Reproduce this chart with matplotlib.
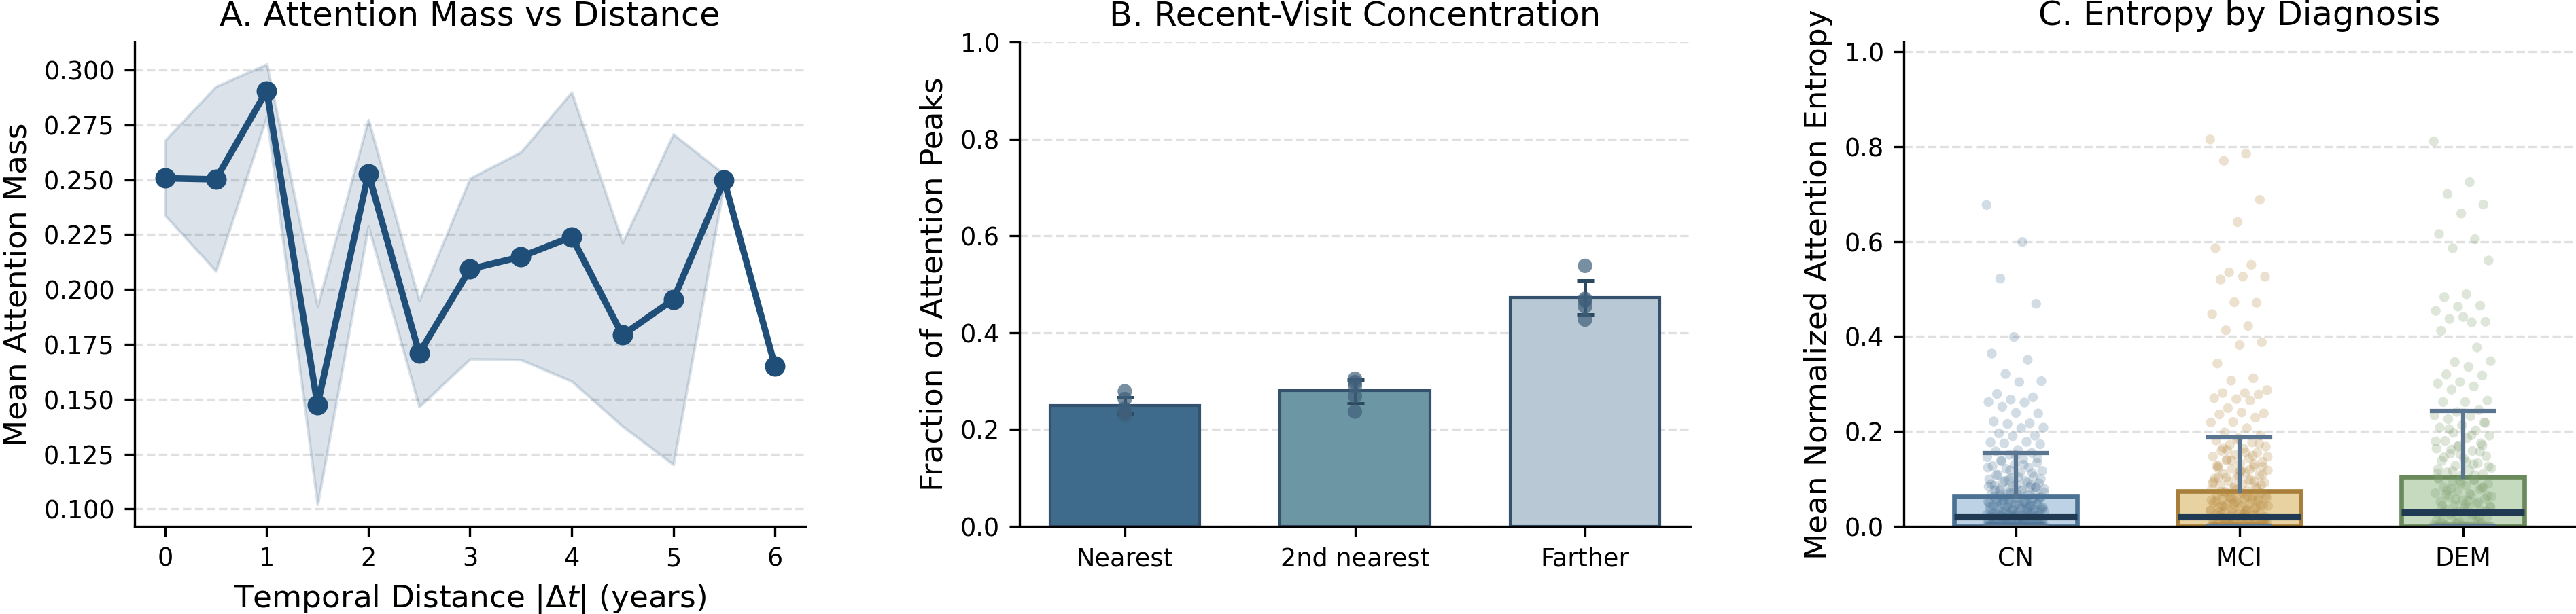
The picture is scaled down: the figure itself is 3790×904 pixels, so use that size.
import matplotlib
matplotlib.use("Agg")
import matplotlib.pyplot as plt
import numpy as np

# ---- Panel A: attention mass vs temporal distance ----
distance = [0, 0.5, 1, 1.5, 2, 2.5, 3, 3.5, 4, 4.5, 5, 5.5, 6]
mass_mean = [0.2507, 0.2502, 0.2906, 0.1475, 0.2528, 0.1710, 0.2093, 0.2149,
             0.2240, 0.1792, 0.1954, 0.2498, 0.1652]
mass_upper = [0.2680, 0.2925, 0.3027, 0.1925, 0.2774, 0.1950, 0.2507, 0.2626,
              0.2899, 0.2214, 0.2708, 0.2525, np.nan]
mass_lower = [0.2338, 0.2084, 0.2788, 0.1021, 0.2288, 0.1466, 0.1683, 0.1680,
              0.1582, 0.1377, 0.1203, 0.2480, np.nan]

# ---- Panel B: recent-visit concentration ----
peak_cats = ["Nearest", "2nd nearest", "Farther"]
peak_frac = [0.250, 0.280, 0.472]
peak_err_lo = [0.017, 0.0265, 0.035]
peak_err_hi = [0.016, 0.0235, 0.036]
peak_folds = [
    [0.279, 0.263, 0.243, 0.235, 0.230],
    [0.305, 0.298, 0.290, 0.269, 0.237],
    [0.538, 0.470, 0.466, 0.454, 0.427],
]

# ---- Panel C: entropy by diagnosis ----
diag = ["CN", "MCI", "DEM"]
ent_q1 = [0.0, 0.0, 0.0]
ent_median = [0.020, 0.020, 0.030]
ent_q3 = [0.063, 0.075, 0.105]
ent_whislo = [0.0, 0.0, 0.0]
ent_whishi = [0.155, 0.187, 0.243]

ent_cn = [0.677, 0.599, 0.522, 0.469, 0.399, 0.364, 0.351, 0.321, 0.306, 0.304,
          0.279, 0.272, 0.267, 0.262, 0.261, 0.252, 0.238, 0.239, 0.221, 0.217,
          0.216, 0.208, 0.207, 0.196, 0.191, 0.190, 0.177, 0.178, 0.175, 0.173,
          0.161, 0.158,
          0.155, 0.151, 0.146, 0.142, 0.139, 0.134, 0.131, 0.127, 0.124, 0.121,
          0.117, 0.113, 0.109, 0.105, 0.102, 0.099, 0.096, 0.093, 0.091, 0.088,
          0.086, 0.083, 0.081, 0.079, 0.077, 0.074, 0.072, 0.069, 0.067, 0.065,
          0.062, 0.061, 0.059, 0.057, 0.056, 0.054, 0.052, 0.051, 0.049, 0.047,
          0.046, 0.044, 0.043, 0.041, 0.040, 0.038, 0.037, 0.036, 0.034, 0.033,
          0.032, 0.031, 0.029, 0.028, 0.027, 0.026, 0.025, 0.024, 0.023, 0.022,
          0.021, 0.020, 0.019, 0.018, 0.017, 0.016, 0.015, 0.014, 0.013, 0.012,
          0.011, 0.010, 0.009, 0.008, 0.008, 0.007, 0.006, 0.005, 0.004, 0.003,
          0.003, 0.002, 0.001, 0.001, 0.000, 0.000, 0.000, 0.000, 0.000, 0.000,
          0.000, 0.000, 0.000, 0.000, 0.000, 0.000, 0.000, 0.000, 0.000, 0.000,
          0.000, 0.000, 0.000, 0.000, 0.000, 0.000, 0.000, 0.000, 0.000, 0.000,
          0.045, 0.052, 0.031, 0.012, 0.067, 0.083, 0.024, 0.006, 0.038, 0.015,
          0.000, 0.000, 0.000, 0.000, 0.000, 0.000, 0.000, 0.000, 0.000, 0.000,
          0.000, 0.000, 0.000, 0.000, 0.000, 0.000, 0.000, 0.000, 0.000, 0.000,
          0.003, 0.005, 0.007, 0.009, 0.011, 0.013, 0.016, 0.018, 0.021, 0.023,
          0.026, 0.028, 0.031, 0.034, 0.036, 0.039, 0.042, 0.044, 0.047, 0.049,
          0.052, 0.055, 0.057, 0.060, 0.063, 0.066, 0.069, 0.072, 0.075, 0.078,
          0.082, 0.085, 0.089, 0.092, 0.096, 0.100, 0.104, 0.108, 0.112, 0.118,
          0.124, 0.130, 0.137, 0.144, 0.150, 0.002, 0.006, 0.010, 0.014, 0.019,
          0.024, 0.029, 0.035, 0.041, 0.048, 0.054, 0.061, 0.068, 0.076, 0.087,
          0.098, 0.001, 0.004, 0.008, 0.012, 0.017, 0.022, 0.027, 0.033, 0.039,
          0.046, 0.053, 0.059, 0.071, 0.084]
ent_mci = [0.815, 0.785, 0.770, 0.688, 0.641, 0.586, 0.551, 0.535, 0.526, 0.526,
           0.520, 0.471, 0.472, 0.447, 0.422, 0.413, 0.388, 0.382, 0.343, 0.312,
           0.307, 0.287, 0.281, 0.281, 0.278, 0.268, 0.270, 0.265, 0.249, 0.238,
           0.240, 0.236, 0.229, 0.220, 0.219, 0.207, 0.198, 0.192,
           0.186, 0.181, 0.177, 0.172, 0.168, 0.164, 0.159, 0.155, 0.151, 0.147,
           0.143, 0.139, 0.136, 0.132, 0.128, 0.125, 0.121, 0.118, 0.114, 0.111,
           0.108, 0.104, 0.101, 0.098, 0.095, 0.092, 0.089, 0.086, 0.083, 0.081,
           0.078, 0.076, 0.073, 0.071, 0.069, 0.066, 0.064, 0.062, 0.060, 0.058,
           0.056, 0.054, 0.052, 0.050, 0.048, 0.046, 0.044, 0.042, 0.040, 0.038,
           0.036, 0.034, 0.032, 0.030, 0.028, 0.026, 0.024, 0.022, 0.021, 0.020,
           0.019, 0.018, 0.016, 0.015, 0.014, 0.012, 0.011, 0.010, 0.008, 0.007,
           0.006, 0.005, 0.004, 0.003, 0.002, 0.001, 0.000, 0.000, 0.000, 0.000,
           0.000, 0.000, 0.000, 0.000, 0.000, 0.000, 0.000, 0.000, 0.000, 0.000,
           0.000, 0.000, 0.000, 0.000, 0.000, 0.000, 0.000, 0.000, 0.000, 0.000,
           0.141, 0.126, 0.117, 0.103, 0.094, 0.057, 0.043, 0.033, 0.017, 0.009,
           0.000, 0.000, 0.000, 0.000, 0.000, 0.000, 0.000, 0.000, 0.000, 0.000,
           0.000, 0.000, 0.000, 0.000, 0.000, 0.000, 0.000, 0.000, 0.000, 0.000,
           0.002, 0.004, 0.007, 0.009, 0.012, 0.015, 0.018, 0.022, 0.025, 0.029,
           0.033, 0.037, 0.041, 0.045, 0.049, 0.053, 0.057, 0.061, 0.065, 0.069,
           0.073, 0.079, 0.085, 0.091, 0.097, 0.103, 0.109, 0.116, 0.123, 0.131,
           0.139, 0.147, 0.156, 0.165, 0.174, 0.183, 0.001, 0.005, 0.010, 0.016,
           0.023, 0.031, 0.039, 0.047, 0.055, 0.063, 0.071, 0.088, 0.106, 0.127,
           0.149, 0.003, 0.013, 0.027, 0.043, 0.059, 0.077, 0.095, 0.119, 0.161]
ent_dem = [0.811, 0.725, 0.700, 0.678, 0.659, 0.616, 0.605, 0.586, 0.560, 0.489,
           0.483, 0.465, 0.463, 0.454, 0.430, 0.437, 0.431, 0.441, 0.412, 0.377,
           0.346, 0.348, 0.336, 0.320, 0.318, 0.304, 0.301, 0.295, 0.288, 0.265,
           0.262, 0.262, 0.245,
           0.241, 0.234, 0.232, 0.226, 0.219, 0.213, 0.208, 0.202, 0.197, 0.191,
           0.186, 0.180, 0.175, 0.170, 0.164, 0.159, 0.153, 0.148, 0.143, 0.138,
           0.133, 0.128, 0.123, 0.118, 0.114, 0.110, 0.106, 0.102, 0.098, 0.094,
           0.090, 0.086, 0.082, 0.078, 0.074, 0.070, 0.066, 0.062, 0.058, 0.055,
           0.052, 0.048, 0.045, 0.042, 0.039, 0.036, 0.033, 0.031, 0.028, 0.025,
           0.022, 0.019, 0.016, 0.013, 0.010, 0.007, 0.004, 0.002, 0.000, 0.000,
           0.000, 0.000, 0.000, 0.000, 0.000, 0.000, 0.000, 0.000, 0.000, 0.000,
           0.000, 0.000, 0.000, 0.000, 0.000, 0.000, 0.000, 0.000, 0.000, 0.000,
           0.171, 0.152, 0.121, 0.097, 0.080, 0.064, 0.047, 0.030, 0.018, 0.008,
           0.000, 0.000, 0.000, 0.000, 0.000, 0.000, 0.000, 0.000, 0.000, 0.000,
           0.003, 0.006, 0.011, 0.015, 0.021, 0.026, 0.032, 0.038, 0.044, 0.051,
           0.057, 0.063, 0.069, 0.076, 0.083, 0.091, 0.099, 0.108, 0.117, 0.126,
           0.136, 0.146, 0.157, 0.168, 0.179, 0.192, 0.205, 0.218, 0.001, 0.009,
           0.019, 0.029, 0.041, 0.054, 0.067, 0.081, 0.095, 0.112, 0.131, 0.162]

# ---- style ----
plt.rcParams["font.family"] = "DejaVu Sans"
DPI = 300
fig = plt.figure(figsize=(3790 / DPI, 904 / DPI), dpi=DPI)

ax_bottom = 129 / 904
ax_h = 713 / 904
ax_w = 987 / 3790
axA = fig.add_axes([198 / 3790, ax_bottom, ax_w, ax_h])
axB = fig.add_axes([1500 / 3790, ax_bottom, ax_w, ax_h])
axC = fig.add_axes([2801 / 3790, ax_bottom, ax_w, ax_h])

TITLE_FS = 11.9
LABEL_FS = 10.9
TICK_FS = 8.8


def style_axes(ax):
    ax.spines["top"].set_visible(False)
    ax.spines["right"].set_visible(False)
    ax.set_axisbelow(True)
    ax.yaxis.grid(True, linestyle="--", color="#d9d9d9", linewidth=0.8, alpha=0.8)
    ax.tick_params(labelsize=TICK_FS)


# Panel A
blue = "#1f4e79"
axA.fill_between(distance, mass_lower, mass_upper, color=blue, alpha=0.16)
axA.plot(distance, mass_mean, color=blue, lw=2.3, marker="o", markersize=6.2)
axA.set_xticks([0, 1, 2, 3, 4, 5, 6])
axA.set_yticks([0.100, 0.125, 0.150, 0.175, 0.200, 0.225, 0.250, 0.275, 0.300])
axA.yaxis.set_major_formatter(matplotlib.ticker.FormatStrFormatter("%.3f"))
axA.set_xlabel(r"Temporal Distance $|\Delta t|$ (years)", fontsize=LABEL_FS)
axA.set_ylabel("Mean Attention Mass", fontsize=LABEL_FS)
axA.set_title("A. Attention Mass vs Distance", fontsize=TITLE_FS)
style_axes(axA)

# Panel B
bar_colors = ["#3e6a8c", "#6d96a4", "#b8c8d4"]
xb = np.arange(len(peak_cats))
axB.bar(xb, peak_frac, width=0.65, color=bar_colors, edgecolor="#34526e", linewidth=1.0)
axB.errorbar(xb, peak_frac, yerr=[peak_err_lo, peak_err_hi], fmt="none",
             ecolor="#2a4860", elinewidth=1.2, capsize=3, capthick=1.2, zorder=4)
for i, folds in enumerate(peak_folds):
    axB.scatter([xb[i]] * len(folds), folds, s=26, color="#3f5f7a", alpha=0.7,
                edgecolor="none", zorder=5)
axB.set_xticks(xb)
axB.set_xticklabels(peak_cats)
axB.set_ylim(0, 1.0)
axB.set_ylabel("Fraction of Attention Peaks", fontsize=LABEL_FS)
axB.set_title("B. Recent-Visit Concentration", fontsize=TITLE_FS)
style_axes(axB)

# Panel C
box_face = ["#bdd3e5", "#e8d2a2", "#c6dabf"]
box_edge = ["#4b7193", "#a87f3a", "#6b8a5c"]
pt_color = ["#4d7497", "#b58a42", "#7c9c6d"]
stats = []
for i in range(3):
    stats.append({"med": ent_median[i], "q1": ent_q1[i], "q3": ent_q3[i],
                  "whislo": ent_whislo[i], "whishi": ent_whishi[i], "fliers": []})
bp = axC.bxp(stats, positions=[0, 1, 2], widths=0.55, patch_artist=True,
             showfliers=False, manage_ticks=False)
for i, box in enumerate(bp["boxes"]):
    box.set_facecolor(box_face[i])
    box.set_edgecolor(box_edge[i])
    box.set_linewidth(1.6)
    box.set_zorder(2)
for w in bp["whiskers"] + bp["caps"]:
    w.set_color("#5a7590")
    w.set_linewidth(1.5)
    w.set_zorder(4)
for m in bp["medians"]:
    m.set_color("#1f3a52")
    m.set_linewidth(2.2)
    m.set_zorder(5)

for i, vals in enumerate([ent_cn, ent_mci, ent_dem]):
    n = len(vals)
    jitter = (((np.arange(n) * 0.6180339887) % 1.0) - 0.5) * 0.26
    axC.scatter(i + jitter, vals, s=12, color=pt_color[i], alpha=0.25,
                edgecolor="none", zorder=3)

axC.set_xticks([0, 1, 2])
axC.set_xticklabels(diag)
axC.set_xlim(-0.5, 2.5)
axC.set_ylim(0, 1.02)
axC.set_yticks([0.0, 0.2, 0.4, 0.6, 0.8, 1.0])
axC.set_ylabel("Mean Normalized Attention Entropy", fontsize=LABEL_FS)
axC.set_title("C. Entropy by Diagnosis", fontsize=TITLE_FS)
style_axes(axC)

fig.savefig("out.png", dpi=DPI)
